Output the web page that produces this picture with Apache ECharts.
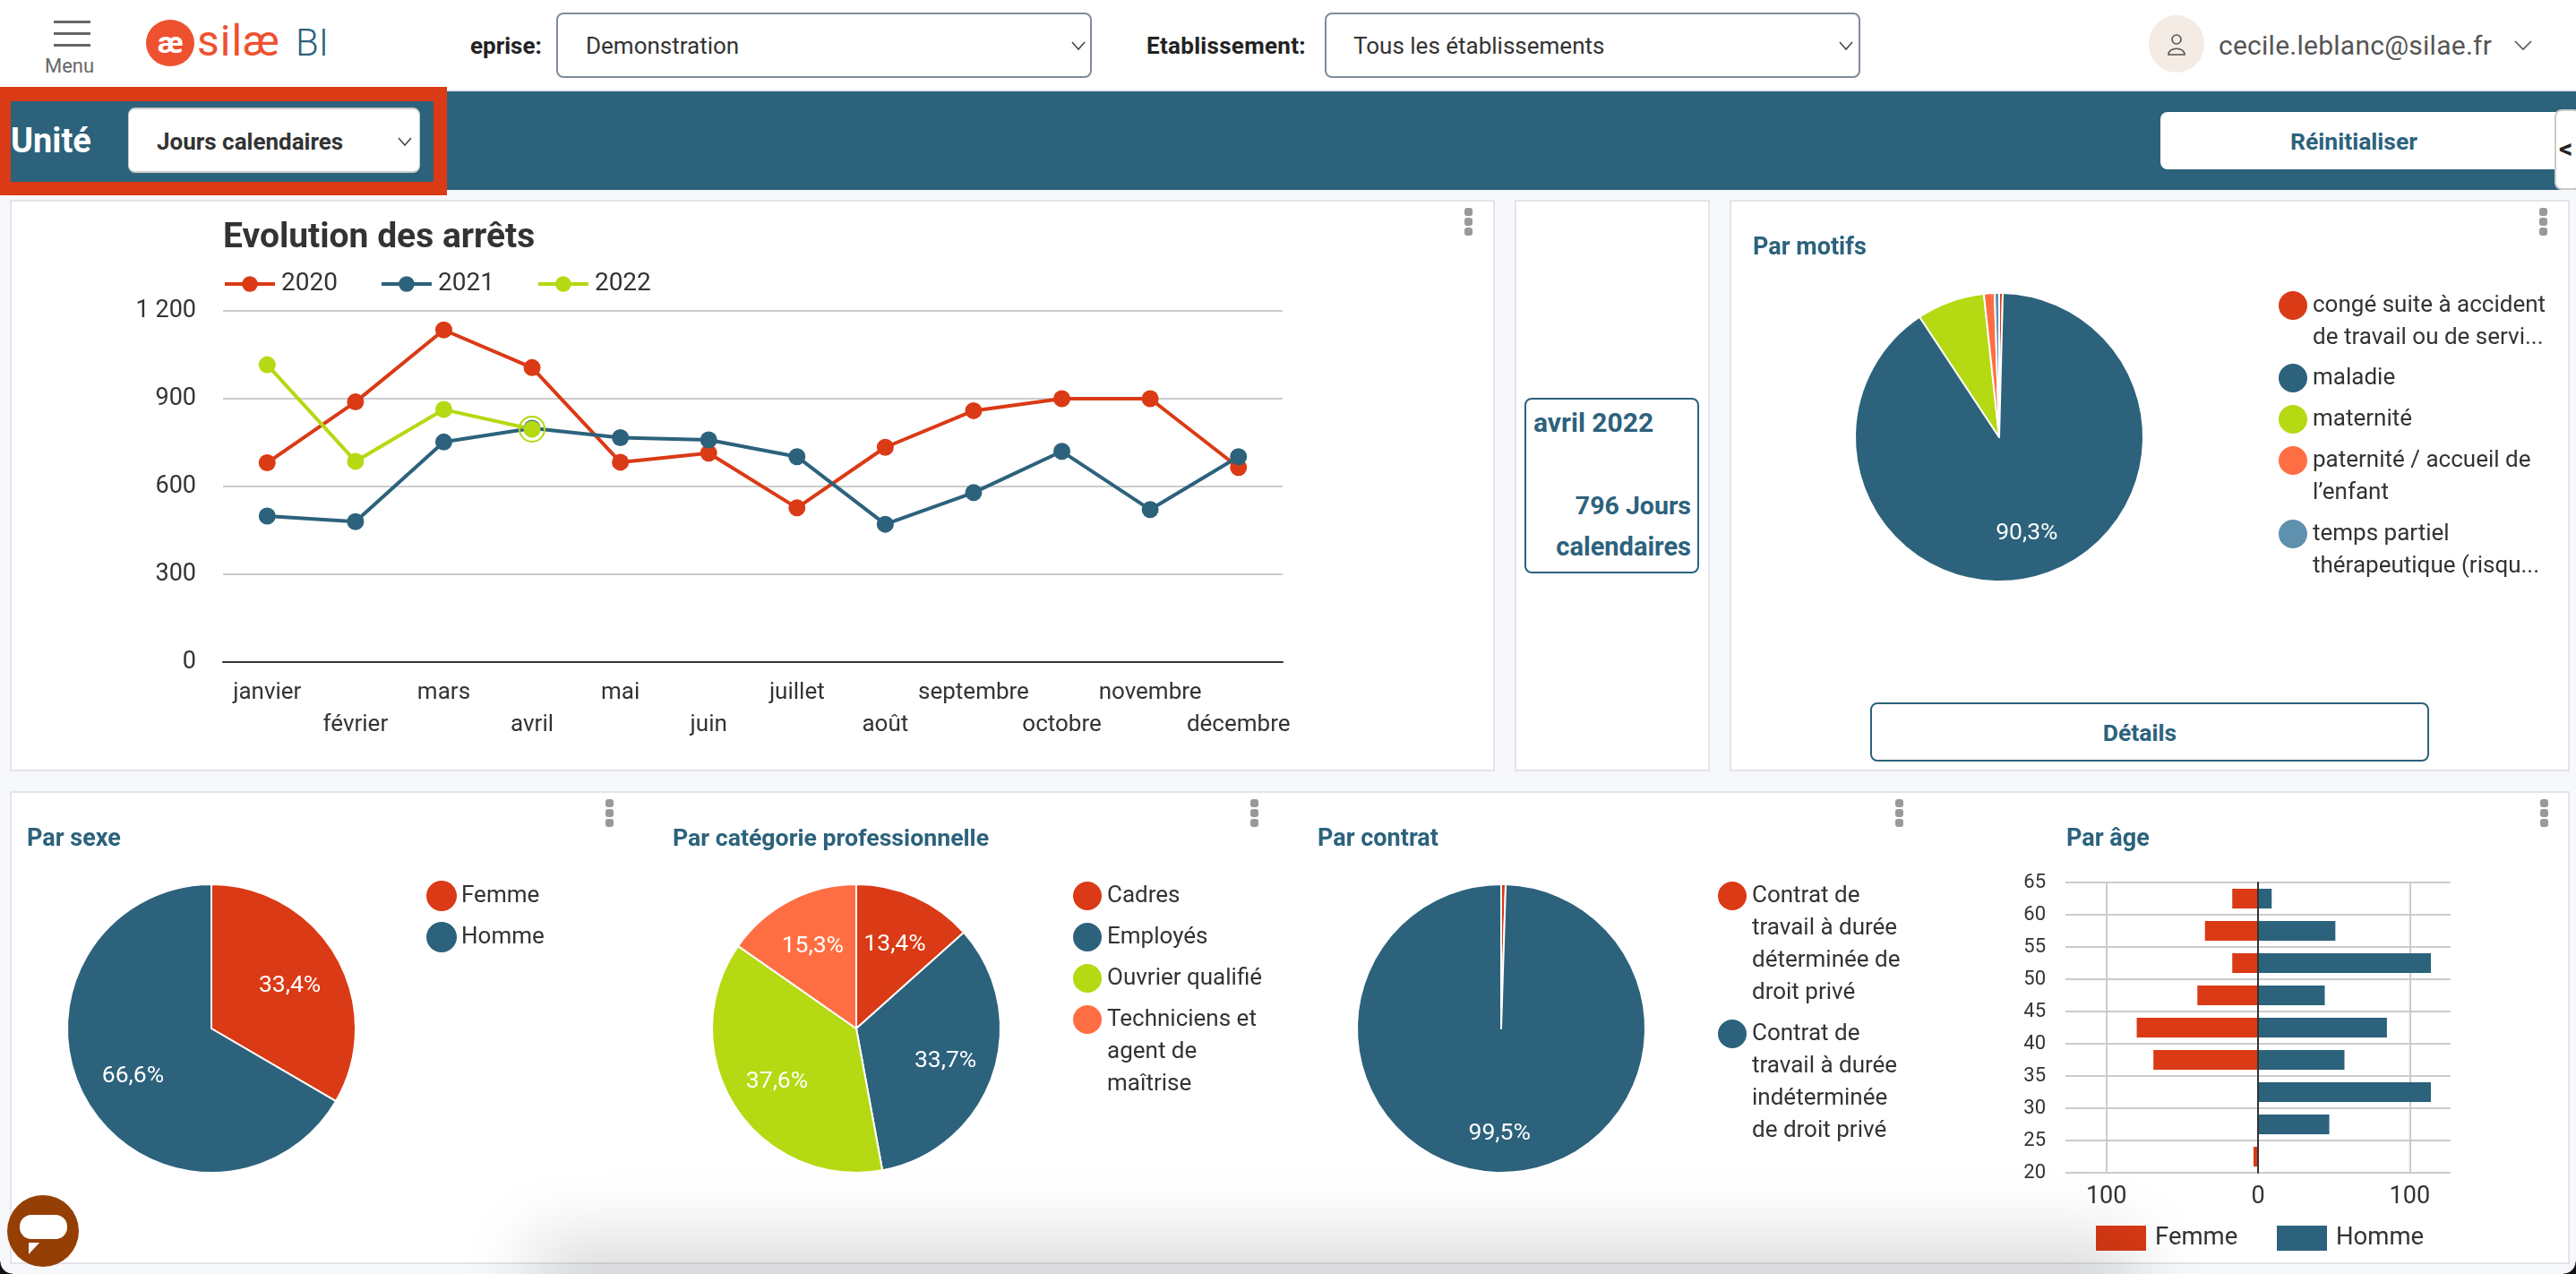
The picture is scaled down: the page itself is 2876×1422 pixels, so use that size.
<!DOCTYPE html>
<html lang="fr">
<head>
<meta charset="utf-8">
<title>silæ BI</title>
<script src="https://cdn.jsdelivr.net/npm/echarts@6/dist/echarts.min.js"></script>
<style>
html,body{margin:0;padding:0;width:2876px;height:1422px;overflow:hidden;background:#f7f8fc;font-family:Roboto,"Noto Sans",sans-serif;color:#333}
.a{position:absolute;box-sizing:border-box}
.t{position:absolute;white-space:nowrap;line-height:40px;height:40px}
.panel{position:absolute;box-sizing:border-box;background:#fff;border:2px solid #e3e4e8}
.sel{position:absolute;box-sizing:border-box;background:#fff;border:2px solid #7f8b9b;border-radius:8px}
.dots i{position:absolute;left:0;width:9px;height:9px;border-radius:3px;background:#999}
.dots{position:absolute;width:9px;height:31px}
svg{position:absolute;overflow:visible}
#chart{position:absolute;left:0;top:0;width:2876px;height:1422px}
</style>
</head>
<body>
<div class="a" style="left:0;top:0;width:2876px;height:100px;background:#fff"></div>
<div class="a" style="left:0;top:100px;width:2876px;height:2px;background:#e6e8ec"></div>
<div class="a" style="left:0;top:102px;width:2876px;height:110px;background:#2c627c"></div>

<div class="a" style="left:60px;top:23px;width:41px;height:3px;background:#666"></div>
<div class="a" style="left:60px;top:36px;width:41px;height:3px;background:#666"></div>
<div class="a" style="left:60px;top:49px;width:41px;height:3px;background:#666"></div>
<div class="t" style="left:50px;top:54px;font-size:22px;color:#666">Menu</div>

<div class="a" style="left:163px;top:22px;width:54px;height:52px;border-radius:50%;background:#ee5130"></div>
<div class="t" style="left:163px;top:27px;width:54px;text-align:center;font-size:34px;font-weight:700;color:#fff">æ</div>
<div class="t" style="left:220px;top:26px;font-size:48px;color:#ee5130;letter-spacing:1px">silæ</div>
<div class="t" style="left:330px;top:28px;font-size:42px;font-weight:300;color:#2c627c">BI</div>

<div class="t" style="left:525px;top:31px;font-size:26px;font-weight:700;color:#222">eprise:</div>
<div class="sel" style="left:621px;top:14px;width:598px;height:73px"></div>
<div class="t" style="left:654px;top:31px;font-size:26px;color:#333">Demonstration</div>
<svg style="left:1196px;top:46px" width="16" height="10"><polyline points="1,1 8,9 15,1" fill="none" stroke="#444" stroke-width="1.5"/></svg>

<div class="t" style="left:1280px;top:31px;font-size:26px;font-weight:700;color:#222;letter-spacing:.3px">Etablissement:</div>
<div class="sel" style="left:1479px;top:14px;width:598px;height:73px"></div>
<div class="t" style="left:1511px;top:31px;font-size:26px;color:#333">Tous les établissements</div>
<svg style="left:2053px;top:46px" width="16" height="10"><polyline points="1,1 8,9 15,1" fill="none" stroke="#444" stroke-width="1.5"/></svg>

<div class="a" style="left:2399px;top:17px;width:62px;height:64px;border-radius:50%;background:#f4ebe4"></div>
<svg style="left:2420px;top:37px" width="20" height="26"><circle cx="10" cy="7" r="5" fill="none" stroke="#555" stroke-width="1.6"/><path d="M1 24 C1 15 19 15 19 24 Z" fill="none" stroke="#555" stroke-width="1.6"/></svg>
<div class="t" style="left:2477px;top:31px;font-size:30px;color:#555;letter-spacing:.25px">cecile.leblanc@silae.fr</div>
<svg style="left:2807px;top:45px" width="20" height="11"><polyline points="1,1 10,10 19,1" fill="none" stroke="#555" stroke-width="1.6"/></svg>

<div class="a" style="left:0;top:97px;width:499px;height:121px;background:#da3a15"></div>
<div class="a" style="left:12px;top:113px;width:472px;height:90px;background:#2c627c"></div>
<div class="t" style="left:12px;top:137px;font-size:38px;font-weight:700;color:#fff">Unité</div>
<div class="a" style="left:143px;top:120px;width:326px;height:73px;background:#fff;border-radius:8px;border:2px solid #ccc;border-left-width:1px;border-right-width:1px"></div>
<div class="t" style="left:175px;top:138px;font-size:26px;font-weight:700;color:#333">Jours calendaires</div>
<svg style="left:444px;top:153px" width="16" height="10"><polyline points="1,1 8,9 15,1" fill="none" stroke="#444" stroke-width="1.5"/></svg>

<div class="a" style="left:2412px;top:125px;width:450px;height:64px;background:#fff;border-radius:8px"></div>
<div class="t" style="left:2408px;top:138px;width:440px;text-align:center;font-size:26.5px;font-weight:700;color:#2c627c">Réinitialiser</div>
<div class="a" style="left:2852px;top:122px;width:30px;height:90px;background:#fff;border:2px solid #ccc;border-radius:8px"></div>
<div class="t" style="left:2857px;top:146px;font-size:30px;font-weight:700;color:#222">&lt;</div>

<div class="panel" style="left:11px;top:223px;width:1658px;height:638px"></div>
<div class="panel" style="left:1691px;top:223px;width:218px;height:638px"></div>
<div class="panel" style="left:1931px;top:223px;width:938px;height:638px"></div>
<div class="panel" style="left:11px;top:883px;width:2858px;height:528px"></div>

<div class="dots" style="left:1635px;top:232px"><i style="top:0"></i><i style="top:11px"></i><i style="top:22px"></i></div>
<div class="dots" style="left:2835px;top:232px"><i style="top:0"></i><i style="top:11px"></i><i style="top:22px"></i></div>
<div class="dots" style="left:676px;top:892px"><i style="top:0"></i><i style="top:11px"></i><i style="top:22px"></i></div>
<div class="dots" style="left:1396px;top:892px"><i style="top:0"></i><i style="top:11px"></i><i style="top:22px"></i></div>
<div class="dots" style="left:2116px;top:892px"><i style="top:0"></i><i style="top:11px"></i><i style="top:22px"></i></div>
<div class="dots" style="left:2836px;top:892px"><i style="top:0"></i><i style="top:11px"></i><i style="top:22px"></i></div>

<div class="a" style="left:1702px;top:444px;width:195px;height:196px;border:2.5px solid #2c627c;border-radius:8px"></div>
<div class="t" style="left:1712px;top:452px;font-size:30px;font-weight:700;color:#2c627c">avril 2022</div>
<div class="t" style="left:1700px;width:188px;text-align:right;top:545px;font-size:28.5px;font-weight:700;color:#2c627c">796 Jours</div>
<div class="t" style="left:1700px;width:188px;text-align:right;top:590px;font-size:29px;font-weight:700;color:#2c627c">calendaires</div>

<div class="a" style="left:2088px;top:784px;width:624px;height:66px;border:2.5px solid #2c627c;border-radius:8px"></div>
<div class="t" style="left:2087px;width:604px;text-align:center;top:798px;font-size:26.5px;font-weight:700;color:#2c627c">Détails</div>

<div id="chart"></div>

<div class="a" style="left:640px;top:1428px;width:1700px;height:10px;box-shadow:0 0 80px 45px rgba(0,0,0,.15)"></div>
<div class="a" style="left:0;top:1408px;width:14px;height:14px;background:radial-gradient(circle at 100% 0,transparent 13px,#111 14px)"></div>
<div class="a" style="left:2862px;top:1408px;width:14px;height:14px;background:radial-gradient(circle at 0 0,transparent 13px,#111 14px)"></div>

<div class="a" style="left:8px;top:1334px;width:80px;height:80px;border-radius:50%;background:#953f05"></div>
<div class="a" style="left:22px;top:1356px;width:53px;height:27px;border-radius:13px;background:#fff"></div>
<svg style="left:32px;top:1387px" width="12" height="13"><path d="M0 0 H12 L0 13 Z" fill="#fff"/></svg>

<script>
const months = ['janvier','février','mars','avril','mai','juin','juillet','août','septembre','octobre','novembre','décembre'];
const yearNames = ['2020','2021','2022'];
const arrets2020 = [681,889,1135,1006,683,714,527,734,859,900,900,665];
const arrets2021 = [499,480,752,799,767,759,702,471,579,720,521,702];
const arrets2022 = [1016,686,863,796];

const motifNames = ['congé suite à accident\nde travail ou de servi...','maladie','maternité','paternité / accueil de\nl\u2019enfant','temps partiel\nthérapeutique (risqu...'];
const motifValues = [0.4,90.3,7.6,1.2,0.5];
const sexeNames = ['Femme','Homme'];
const sexeValues = [33.4,66.6];
const categorieNames = ['Cadres','Employés','Ouvrier qualifié','Techniciens et\nagent de\nmaîtrise'];
const categorieValues = [13.4,33.7,37.6,15.3];
const contratNames = ['Contrat de\ntravail à durée\ndéterminée de\ndroit privé','Contrat de\ntravail à durée\nindéterminée\nde droit privé'];
const contratValues = [0.5,99.5];

const ageBands = ['20-25','25-30','30-35','35-40','40-45','45-50','50-55','55-60','60-65'];
const ageFemme = [-3,0,0,-69,-80,-40,-17,-35,-17];
const ageHomme = [0,47,114,57,85,44,114,51,9];

const RED='#da3a15', TEAL='#2c627c', LIME='#b5d912', ORANGE='#ff6e42', STEEL='#5f90ad';
const FONT='Roboto', INK='#333', GRID='#cccccc';

const titles=[], legends=[], series=[];
function addTitle(text,left,cy,size,color){
  titles.push({text,left,top:cy-20,padding:0,textStyle:{fontFamily:FONT,fontWeight:700,fontSize:size,color,lineHeight:40}});
}
addTitle('Evolution des arrêts',249,266,39,'#333');
addTitle('Par motifs',1957,277,27,TEAL);
addTitle('Par sexe',30,937,27,TEAL);
addTitle('Par catégorie professionnelle',751,937,26.7,TEAL);
addTitle('Par contrat',1471,937,27,TEAL);
addTitle('Par âge',2307,937,27,TEAL);

function addPieLegend(name,cx,cy){
  const n=name.split('\n').length;
  legends.push({
    data:[name],left:cx-14,top:cy+2-(2*n-1)*18,padding:0,orient:'vertical',
    icon:'circle',itemWidth:34,itemHeight:34,selectedMode:false,
    formatter:v=>'\n'.repeat(n-1)+v,
    textStyle:{fontFamily:FONT,fontSize:26,color:INK,lineHeight:36}
  });
}
function addPie(names,values,colors,cx,cy,spread,shiftY,legendX,legendYs){
  series.push({
    type:'pie',center:[cx,cy],radius:161,clockwise:true,startAngle:90,silent:true,avoidLabelOverlap:false,
    data:names.map((n,i)=>({name:n,value:values[i],itemStyle:{color:colors[i]}})),
    itemStyle:{borderColor:'#fff',borderWidth:2},
    labelLine:{show:false},
    label:{show:true,position:'inside',color:'#fff',fontFamily:FONT,fontSize:26.5,
      formatter:p=>p.value>=10?p.value.toFixed(1).replace('.',',')+'%':''},
    labelLayout:p=>{
      const lx=p.labelRect.x+p.labelRect.width/2, ly=p.labelRect.y+p.labelRect.height/2;
      return {dx:(lx-cx)*(spread-1),dy:(ly-cy)*(spread-1)+shiftY};
    }
  });
  names.forEach((n,i)=>addPieLegend(n,legendX,legendYs[i]));
}
addPie(motifNames,motifValues,[RED,TEAL,LIME,ORANGE,STEEL],2232,488,1.34,0,2556,[339,420,466,512,594]);
addPie(sexeNames,sexeValues,[RED,TEAL],236,1148,1.21,3,490,[998,1044]);
addPie(categorieNames,categorieValues,[RED,TEAL,LIME,ORANGE],956,1148,1.26,2,1210,[998,1044,1090,1136]);
addPie(contratNames,contratValues,[RED,TEAL],1676,1148,1.4,0,1930,[998,1152]);

const lineColors=[RED,TEAL,LIME], lineData=[arrets2020,arrets2021,arrets2022];
yearNames.forEach((y,i)=>series.push({
  type:'line',name:y,xAxisIndex:0,yAxisIndex:0,data:lineData[i],symbol:'circle',symbolSize:19,showSymbol:true,silent:true,
  lineStyle:{color:lineColors[i],width:4},itemStyle:{color:lineColors[i]},
  markPoint:i===2?{silent:true,animation:false,symbol:'circle',symbolSize:28,label:{show:false},
    itemStyle:{color:'rgba(255,255,255,0)',borderColor:LIME,borderWidth:2},
    data:[{xAxis:months[arrets2022.length-1],yAxis:arrets2022[arrets2022.length-1]}]}:undefined
}));
legends.push({data:yearNames,left:249,top:303,padding:0,itemWidth:56,itemHeight:22,symbolSize:18,itemGap:47,selectedMode:false,
  lineStyle:{width:4},
  textStyle:{fontFamily:FONT,fontSize:28,color:INK,padding:[0,0,0,2]}});

series.push({type:'bar',name:'Femme',stack:'age',xAxisIndex:1,yAxisIndex:1,data:ageFemme,barWidth:22,silent:true,itemStyle:{color:RED}});
series.push({type:'bar',name:'Homme',stack:'age',xAxisIndex:1,yAxisIndex:1,data:ageHomme,barWidth:22,silent:true,itemStyle:{color:TEAL}});
[['Femme',2340],['Homme',2542]].forEach(([n,x])=>legends.push({data:[n],left:x,top:1368,padding:0,icon:'rect',itemWidth:56,itemHeight:28,symbolSize:28,selectedMode:false,
  textStyle:{fontFamily:FONT,fontSize:27.5,color:INK,padding:[0,0,0,5]}}));

const option={
  animation:false,
  backgroundColor:'transparent',
  title:titles,
  legend:legends,
  grid:[
    {left:249,top:347,width:1183,height:392,containLabel:false},
    {left:2306,top:985,width:430,height:324,containLabel:false}
  ],
  xAxis:[
    {gridIndex:0,type:'category',data:months,boundaryGap:true,axisTick:{show:false},
      axisLine:{lineStyle:{color:INK,width:2}},
      axisLabel:{interval:0,margin:16,fontFamily:FONT,fontSize:26,color:INK,lineHeight:36,
        formatter:(v,i)=>i%2?'\n'+v:v}},
    {gridIndex:1,type:'value',min:-127,max:127,
      axisLine:{show:false},
      axisTick:{show:false,customValues:[-100,0,100]},
      splitLine:{show:true,lineStyle:{color:GRID,width:2}},
      axisLabel:{customValues:[-100,0,100],margin:14,fontFamily:FONT,fontSize:27,color:INK,formatter:v=>String(Math.abs(v))}}
  ],
  yAxis:[
    {gridIndex:0,type:'value',min:0,max:1200,interval:300,
      axisLine:{show:false},axisTick:{show:false},
      splitLine:{lineStyle:{color:GRID,width:2}},
      axisLabel:{margin:30,fontFamily:FONT,fontSize:27,color:INK,formatter:v=>v>=1000?String(v).replace(/(\d)(\d{3})$/,'$1 $2'):String(v)}},
    {gridIndex:1,type:'category',data:ageBands,z:6,
      axisLine:{show:true,onZero:true,lineStyle:{color:INK,width:2}},
      axisTick:{show:false},axisLabel:{show:false},splitLine:{show:false}},
    {gridIndex:1,type:'value',min:20,max:65,interval:5,position:'left',
      axisLine:{show:false},axisTick:{show:false},
      splitLine:{show:true,lineStyle:{color:GRID,width:2}},
      axisLabel:{margin:22,fontFamily:FONT,fontSize:22,color:INK}}
  ],
  series
};
const chart=echarts.init(document.getElementById('chart'),null,{renderer:'canvas',width:2876,height:1422});
chart.setOption(option);
</script>
</body>
</html>
